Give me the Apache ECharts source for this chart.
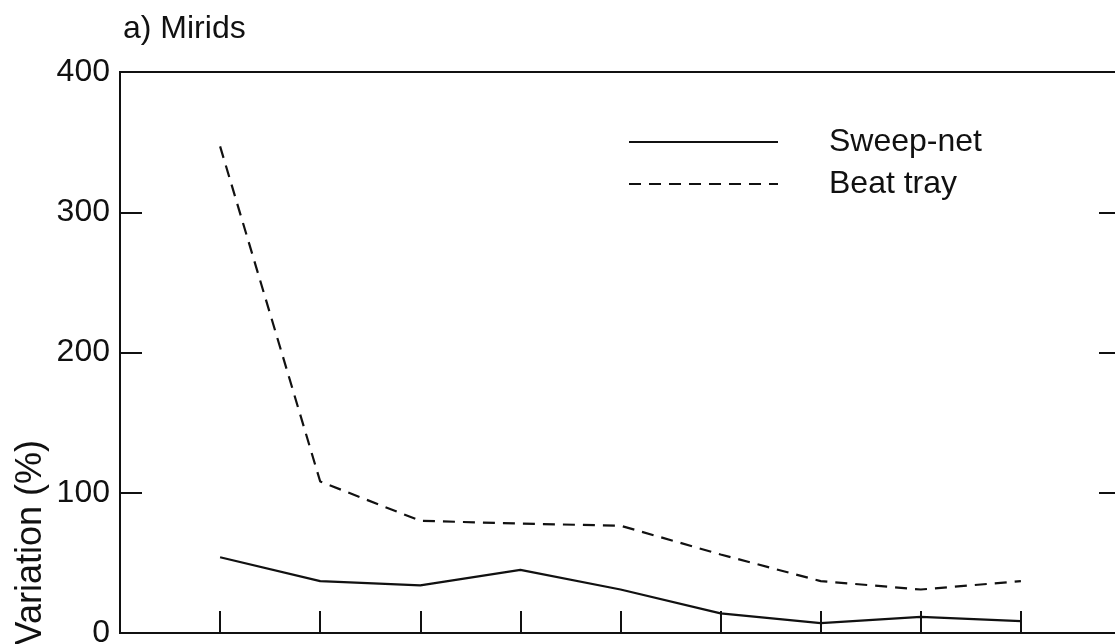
<!DOCTYPE html>
<html>
<head>
<meta charset="utf-8">
<script src="https://cdn.jsdelivr.net/npm/echarts@6/dist/echarts.min.js"></script>
<style>
html,body{margin:0;padding:0;background:#fff;}
#chart{width:1115px;height:644px;}
</style>
</head>
<body>
<div id="chart"></div>
<script>
// Data
var sampleDates = [1, 2, 3, 4, 5, 6, 7, 8, 9];
var sweepNet = [54, 37, 34, 45, 31, 14, 7, 11.5, 8.5];
var beatTray = [347, 108, 80, 78, 76.5, 56, 37, 31, 37];
var yTicks = [0, 100, 200, 300, 400];
var seriesNames = ['Sweep-net', 'Beat tray'];
var panelTitle = 'a) Mirids';
var yAxisTitle = 'Variation (%)';

function pairs(xs, ys) { return xs.map(function (x, i) { return [x, ys[i]]; }); }

var chart = echarts.init(document.getElementById('chart'), null, {renderer: 'canvas'});
var font = 'Liberation Sans, Arial, Helvetica, sans-serif';
chart.setOption({
  animation: false,
  backgroundColor: '#fff',
  title: {
    text: panelTitle,
    left: 118, top: 8,
    textStyle: {fontFamily: font, fontSize: 32, fontWeight: 'normal', color: '#111'}
  },
  legend: {
    orient: 'vertical',
    left: 623, top: 121,
    itemWidth: 149, itemHeight: 14, itemGap: 10,
    data: seriesNames,
    itemStyle: {opacity: 0},
    textStyle: {fontFamily: font, fontSize: 32, color: '#111', padding: [0, 0, 0, 46], lineHeight: 32}
  },
  grid: {
    left: 120, width: 1001, top: 72, bottom: 11,
    outerBoundsMode: 'none',
    show: true, borderColor: '#111', borderWidth: 2, backgroundColor: 'transparent'
  },
  xAxis: {
    type: 'value', min: 0, max: 10, interval: 1,
    axisLine: {show: true, lineStyle: {color: '#111', width: 2}},
    axisTick: {show: true, inside: true, length: 22, lineStyle: {color: '#111', width: 2}},
    axisLabel: {show: false},
    splitLine: {show: false}
  },
  yAxis: [{
    type: 'value', min: yTicks[0], max: yTicks[yTicks.length - 1], interval: 100,
    axisLine: {show: true, lineStyle: {color: '#111', width: 2}},
    axisTick: {show: true, inside: true, length: 22, lineStyle: {color: '#111', width: 2}},
    axisLabel: {show: true, margin: 10, fontFamily: font, fontSize: 32, color: '#111'},
    splitLine: {show: false}
  }, {
    type: 'value', position: 'right', min: yTicks[0], max: yTicks[yTicks.length - 1], interval: 100,
    axisLine: {show: true, lineStyle: {color: '#111', width: 2}},
    axisTick: {show: true, inside: true, length: 22, lineStyle: {color: '#111', width: 2}},
    axisLabel: {show: false},
    splitLine: {show: false}
  }],
  graphic: [{
    type: 'text',
    x: 31, y: 440,
    rotation: Math.PI / 2,
    style: {
      text: yAxisTitle,
      font: '36px ' + font,
      fill: '#111',
      align: 'right',
      verticalAlign: 'middle'
    }
  }],
  series: [{
    name: seriesNames[0],
    type: 'line',
    data: pairs(sampleDates, sweepNet),
    symbol: 'none',
    lineStyle: {color: '#111', width: 2.2, type: 'solid'},
    itemStyle: {color: '#111'}
  }, {
    name: seriesNames[1],
    type: 'line',
    data: pairs(sampleDates, beatTray),
    symbol: 'none',
    lineStyle: {color: '#111', width: 2.2, type: [12, 8]},
    itemStyle: {color: '#111'}
  }]
});
</script>
</body>
</html>
